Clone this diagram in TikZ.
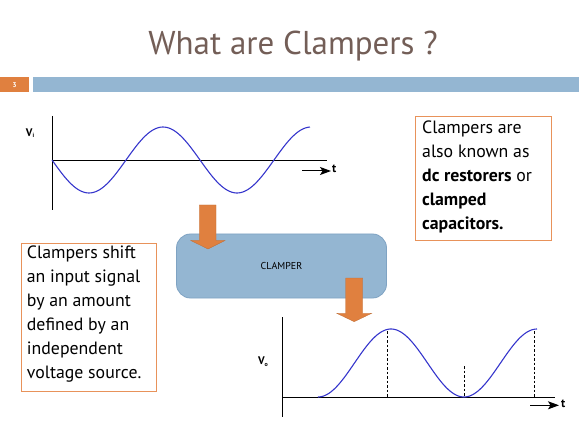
\documentclass[tikz,border=0pt]{standalone}
\usepackage{fontspec}
\setmainfont{PT Sans}
\usetikzlibrary{arrows.meta}
\definecolor{titlec}{HTML}{735E57}
\definecolor{orangec}{HTML}{E0803F}
\definecolor{bluebar}{HTML}{94B6D2}
\definecolor{boxedge}{HTML}{7FA3C3}
\definecolor{wavec}{HTML}{3636CC}
\definecolor{txtedge}{HTML}{E8925A}
\tikzset{
  wave/.style={wavec, line width=1.1pt},
  axis/.style={black, line width=0.9pt},
  tarrow/.style={black, line width=1pt, -{Stealth[length=11pt,width=8pt,inset=2.5pt]}},
  guide/.style={black, line width=0.5pt, dash pattern=on 2.5pt off 2pt},
  bigarrow/.style={fill=orangec, draw=orangec!85!black, line width=0.3pt},
  txtbox/.style={draw=txtedge, line width=1pt, fill=white, inner sep=0pt},
  bodytext/.style={font=\fontsize{17.8}{24}\selectfont, align=left, anchor=north west, inner sep=0pt},
  axlabel/.style={font=\fontsize{11}{12}\selectfont\bfseries, inner sep=0pt}
}
\begin{document}
\begin{tikzpicture}[x=1pt,y=-1pt]
\useasboundingbox (0,0) rectangle (579,433);
% title
\node[titlec, font=\fontsize{33}{36}\selectfont, anchor=base] (title) at (293,55) {What are Clampers ?};
% header bar
\fill[orangec] (0,77.3) rectangle (29,92.3);
\node[white, font=\fontsize{7}{8}\selectfont\bfseries] (num) at (14.5,84.8) {3};
\fill[bluebar] (33,77.3) rectangle (579,92.3);
% input waveform
\coordinate (ivtop) at (52,116);
\coordinate (ivbot) at (52,210);
\coordinate (ihl) at (52,160);
\coordinate (ihr) at (327,160);
\draw[axis] (ivtop) -- (ivbot);
\draw[axis] (ihl) -- (ihr);
\draw[wave] plot[domain=52:310, samples=120] (\x, {160 + 33*sin(2.43243*(\x-52))});
\coordinate (ita) at (302,171);
\coordinate (itb) at (331,171);
\draw[tarrow] (ita) -- (itb);
\node[font=\fontsize{12}{14}\selectfont\bfseries, anchor=west, inner sep=0pt] (it) at (332,169) {t};
\node[axlabel] (vi) at (30,133) {V\raisebox{-0.3ex}{\fontsize{6}{7}\selectfont i}};
% clamper box
\node[draw=boxedge, fill=bluebar, rounded corners=14pt, line width=0.8pt,
      minimum width=210pt, minimum height=64pt, font=\fontsize{10}{12}\selectfont] (clamper) at (281.5,266) {CLAMPER};
% orange arrows
\path[bigarrow] (199.3,205) -- (216,205) -- (216,240.5) -- (225,240.5) -- (208,249) -- (190.7,240.5) -- (199.3,240.5) -- cycle;
\path[bigarrow] (345.7,278) -- (362.7,278) -- (362.7,313.3) -- (371.7,313.3) -- (354.2,321.7) -- (336.7,313.3) -- (345.7,313.3) -- cycle;
% output waveform
\coordinate (ovtop) at (282.3,317);
\coordinate (ovbot) at (282.3,417);
\coordinate (ohl) at (282.3,397.3);
\coordinate (ohr) at (555,397.3);
\draw[guide] (387.3,331) -- (387.3,397);
\draw[guide] (464,366) -- (464,397);
\draw[guide] (534.5,331) -- (534.5,397);
\draw[axis] (ovtop) -- (ovbot);
\draw[axis] (ohl) -- (ohr);
\draw[wave] plot[domain=318:537, samples=120] (\x, {363 + 34*cos(2.46575*(\x-318))});
\coordinate (ota) at (530,405.3);
\coordinate (otb) at (559,405.3);
\draw[tarrow] (ota) -- (otb);
\node[font=\fontsize{12}{14}\selectfont\bfseries, anchor=west, inner sep=0pt] (ot) at (561,404) {t};
\node[axlabel] (vo) at (263,362) {V\raisebox{-0.3ex}{\fontsize{6}{7}\selectfont o}};
% right text box
\draw[txtbox] (415,117) rectangle (551.7,241);
\node[bodytext] (rtext) at (422,121) {Clampers are\\also known as\\\textbf{dc restorers} or\\\textbf{clamped}\\\textbf{capacitors.}};
% left text box
\draw[txtbox] (21,244) rectangle (156.7,391.7);
\node[bodytext] (ltext) at (26.7,246) {Clampers shift\\an input signal\\by an amount\\defined by an\\independent\\voltage source.};
\end{tikzpicture}
\end{document}
